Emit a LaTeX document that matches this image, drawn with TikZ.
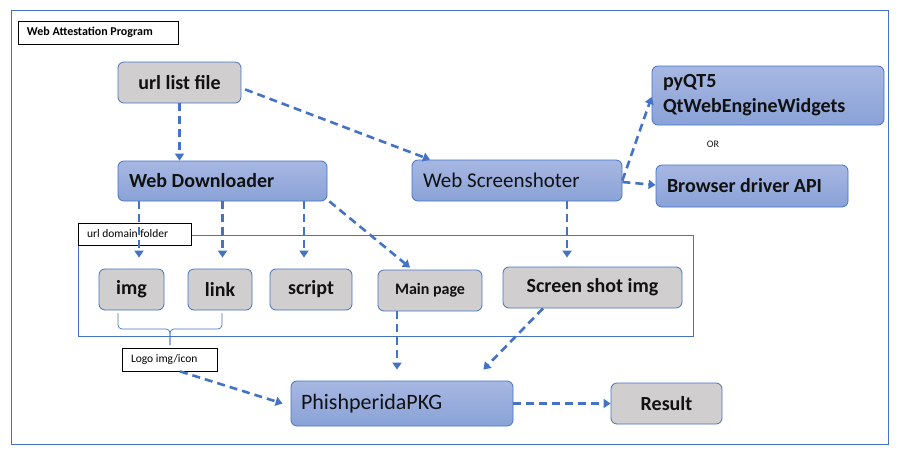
\documentclass[tikz,border=0pt]{standalone}
\usepackage{fontspec}
\setmainfont{Carlito}
\usetikzlibrary{arrows.meta}
\definecolor{bl}{HTML}{4472C4}
\definecolor{gr}{HTML}{D0CECE}
\definecolor{btop}{HTML}{A7B7E2}
\definecolor{bbot}{HTML}{8AA2D7}
\definecolor{txt}{HTML}{111111}
\tikzset{
  box/.style={rounded corners=6pt, draw=bl, line width=0.8pt, inner sep=0pt, align=center, text=txt},
  graybox/.style={box, fill=gr},
  bluebox/.style={box, top color=btop, bottom color=bbot},
  labelbox/.style={draw=black, line width=0.8pt, fill=white, inner ysep=0pt, inner xsep=9pt, align=flush left},
  bigb/.style={font=\fontsize{20}{25}\selectfont\bfseries},
  bigr/.style={font=\fontsize{21}{25}\selectfont},
  smallb/.style={font=\fontsize{12}{14}\selectfont\bfseries},
  smallr/.style={font=\fontsize{11.5}{14}\selectfont},
  lft/.style={inner xsep=11pt, text width=#1, align=flush left},
  arr/.style={draw=bl, line width=2.6pt, dash pattern=on 8pt off 5pt, -{Triangle[width=9pt,length=7pt]}},
  frame/.style={draw=bl, line width=0.8pt}
}
\begin{document}
\begin{tikzpicture}[x=1pt,y=-1pt]
\useasboundingbox (0,0) rectangle (900,451);
% outer frame
\draw[frame] (11,10) rectangle (888,444);
\node[labelbox, smallb, minimum width=160pt, minimum height=23pt, text width=142pt] (title) at (98,32.5) {Web Attestation Program};

% top nodes
\node[graybox, bigb, minimum width=123pt, minimum height=41pt] (url) at (179.5,82.5) {url list file};
\node[bluebox, bigb, minimum width=209pt, minimum height=40pt, lft=187pt] (wd) at (222.5,181) {Web Downloader};
\node[bluebox, bigr, minimum width=210pt, minimum height=41pt, lft=188pt] (ws) at (517,180.5) {Web Screenshoter};
\node[bluebox, bigb, minimum width=232pt, minimum height=59pt, lft=210pt] (pyqt) at (768,95.5) {pyQT5\\QtWebEngineWidgets};
\node[font=\fontsize{10}{12}\selectfont, text=txt, inner sep=0pt] (or) at (713,144) {OR};
\node[bluebox, bigb, minimum width=192pt, minimum height=42pt, lft=170pt] (bda) at (752,186) {Browser driver API};

% folder frame
\draw[frame] (78,235) rectangle (693,336);
\node[labelbox, smallr, minimum width=113pt, minimum height=22pt, text width=95pt] (folder) at (134.5,234) {url domain folder};

\node[graybox, bigb, minimum width=65pt, minimum height=41pt] (img) at (131.5,289.5) {img};
\node[graybox, bigb, minimum width=64pt, minimum height=41pt] (link) at (220,289.5) {link};
\node[graybox, bigb, minimum width=82pt, minimum height=41pt] (script) at (311,289.5) {script};
\node[graybox, font=\fontsize{16}{19}\selectfont\bfseries, minimum width=104pt, minimum height=41pt] (main) at (430,290.5) {Main page};
\node[graybox, bigb, minimum width=179pt, minimum height=41pt] (ssi) at (592.5,287.5) {Screen shot img};

% brace
\draw[bl, line width=0.7pt, rounded corners=4pt] (118,313) -- (118,329) -- (170,329) -- (170,345);
\draw[bl, line width=0.7pt, rounded corners=4pt] (222,313) -- (222,329) -- (170,329) -- (170,345);

\node[labelbox, smallr, minimum width=95pt, minimum height=23pt, text width=77pt] (logo) at (169.5,359.5) {Logo img/icon};

\node[bluebox, font=\fontsize{22}{26}\selectfont, minimum width=222pt, minimum height=45pt, lft=202pt, inner xsep=10pt] (pkg) at (402,403.5) {PhishperidaPKG};
\node[graybox, bigb, minimum width=111pt, minimum height=41pt] (result) at (666.5,403.5) {Result};

% connectors
\draw[arr] (url.south) -- (url.south |- wd.north);
\draw[arr, shorten <=4pt] ([yshift=-5.5pt]url.east) -- ([xshift=-87pt]ws.north);
\draw[arr] ([xshift=-83.5pt]wd.south) -- ([xshift=7.5pt,yshift=11pt]img.north);
\draw[arr] (wd.south) -- ([xshift=2.5pt,yshift=11pt]link.north);
\draw[arr] ([xshift=81.5pt]wd.south) -- ([xshift=-7pt,yshift=11pt]script.north);
\draw[arr] ([xshift=2pt]wd.south east) -- ([xshift=-20pt,yshift=2pt]main.north);
\draw[arr] ([xshift=50pt]ws.south) -- ([xshift=-25.5pt,yshift=9pt]ssi.north);
\draw[arr] (ws.east) -- ([yshift=-1.5pt]pyqt.west);
\draw[arr] ([yshift=-1.5pt]ws.east) -- ([yshift=1pt]bda.west);
\draw[arr] ([xshift=-33pt]main.south) -- ([xshift=-5pt,yshift=11pt]pkg.north);
\draw[arr] ([xshift=-49.5pt]ssi.south) -- ([xshift=-30pt,yshift=11pt]pkg.north east);
\draw[arr] ([xshift=10.5pt]logo.south) -- ([xshift=-8pt]pkg.west);
\draw[arr] (pkg.east) -- (result.west);
\end{tikzpicture}
\end{document}
